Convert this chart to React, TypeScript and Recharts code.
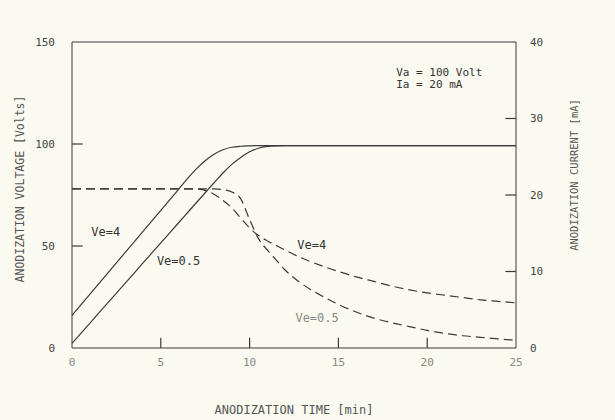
import React from "react";
import {
  LineChart,
  Line,
  XAxis,
  YAxis,
  ReferenceLine,
  ReferenceDot,
} from "recharts";

// anodization time [min]
const time = [0, 1, 2, 3, 4, 5, 6, 6.5, 7, 7.5, 8, 8.5, 9, 9.5, 10, 10.5, 11, 11.5, 12, 13, 14, 15, 16, 17, 18, 19, 20, 21, 22, 23, 24, 25];

// anodization voltage [V]
const voltageVe4 = [16, 26.3, 36.6, 46.9, 57.2, 67.5, 77.8, 83, 87.8, 91.8, 95, 97.2, 98.4, 98.9, 99.1, 99.2, 99.2, 99.2, 99.2, 99.2, 99.2, 99.2, 99.2, 99.2, 99.2, 99.2, 99.2, 99.2, 99.2, 99.2, 99.2, 99.2];
const voltageVe05 = [2.3, 12.1, 22, 31.8, 41.7, 51.5, 61.4, 66.3, 71.2, 76.1, 81, 85.8, 90, 93.4, 96.2, 97.9, 98.8, 99.1, 99.2, 99.2, 99.2, 99.2, 99.2, 99.2, 99.2, 99.2, 99.2, 99.2, 99.2, 99.2, 99.2, 99.2];

// anodization current [mA]
const currentVe4 = [20.8, 20.8, 20.8, 20.8, 20.8, 20.8, 20.8, 20.8, 20.8, 20.6, 20.1, 19.3, 18.3, 17.0, 15.7, 14.7, 14.0, 13.4, 12.8, 11.7, 10.8, 10.0, 9.3, 8.7, 8.1, 7.6, 7.2, 6.9, 6.6, 6.3, 6.1, 5.9];
const currentVe05 = [20.8, 20.8, 20.8, 20.8, 20.8, 20.8, 20.8, 20.8, 20.8, 20.8, 20.8, 20.7, 20.4, 19.5, 16.8, 14.3, 12.8, 11.5, 10.2, 8.3, 6.9, 5.7, 4.7, 3.9, 3.3, 2.8, 2.3, 1.9, 1.6, 1.4, 1.2, 1.0];

const timeTicks = [0, 5, 10, 15, 20, 25];
const voltageTicks = [0, 50, 100, 150];
const currentTicks = [0, 10, 20, 30, 40];

// curve labels: [time, value, text, axis]
const curveLabels: [number, number, string, string][] = [
  [1.9, 57, "Ve=4", "v"],
  [6.0, 43, "Ve=0.5", "v"],
  [13.5, 13.5, "Ve=4", "i"],
  [13.8, 3.9, "Ve=0.5", "i"],
];

const noteLines = ["Va = 100 Volt", "Ia = 20 mA"];

const data = time.map((t, i) => ({
  t,
  v4: voltageVe4[i],
  v05: voltageVe05[i],
  i4: currentVe4[i],
  i05: currentVe05[i],
}));

const FONT = "'DejaVu Sans Mono', 'Liberation Mono', monospace";
const INK = "#3a3a3a";
const BG = "#fbfaf1";
// inward tick marks, in data units (about 10px)
const TICK_T = 0.6;
const TICK_V = 5;
const TICK_I = 0.6;

export default function App() {
  return (
    <div style={{ position: "absolute", left: 0, top: 0, width: 615, height: 420, background: BG }}>
      <LineChart width={615} height={420} data={data} margin={{ top: 42, right: 39, left: 12, bottom: 42 }}>
        <XAxis
          dataKey="t"
          type="number"
          domain={[0, 25]}
          ticks={timeTicks}
          interval={0}
          stroke={INK}
          tickLine={false}
          tickSize={0}
          tickMargin={10}
          height={30}
          tick={{ fill: "#888", fontFamily: FONT, fontSize: 11 }}
          label={{ value: "ANODIZATION TIME [min]", position: "bottom", offset: 27, fill: "#555", fontFamily: FONT, fontSize: 12 }}
        />
        <YAxis
          yAxisId="v"
          orientation="left"
          domain={[0, 150]}
          ticks={voltageTicks}
          interval={0}
          width={60}
          stroke={INK}
          tickLine={false}
          tickSize={0}
          tickMargin={17}
          tick={{ fill: "#444", fontFamily: FONT, fontSize: 11 }}
          label={{ value: "ANODIZATION VOLTAGE [Volts]", angle: -90, position: "insideLeft", offset: 8, dy: -6, fill: "#555", fontFamily: FONT, fontSize: 11.5, style: { textAnchor: "middle" } }}
        />
        <YAxis
          yAxisId="i"
          orientation="right"
          domain={[0, 40]}
          ticks={currentTicks}
          interval={0}
          width={60}
          stroke={INK}
          tickLine={false}
          tickSize={0}
          tickMargin={14}
          tick={{ fill: "#444", fontFamily: FONT, fontSize: 11 }}
          label={{ value: "ANODIZATION CURRENT [mA]", angle: -90, position: "insideRight", offset: 2, dy: -20, fill: "#555", fontFamily: FONT, fontSize: 10.5, style: { textAnchor: "middle" } }}
        />
        <ReferenceLine yAxisId="v" y={150} stroke={INK} />

        {voltageTicks.slice(1, -1).map((v) => (
          <ReferenceLine key={"lt" + v} yAxisId="v" stroke={INK} strokeWidth={1.2} segment={[{ x: 0, y: v }, { x: TICK_T, y: v }]} />
        ))}
        {currentTicks.slice(1, -1).map((c) => (
          <ReferenceLine key={"rt" + c} yAxisId="i" stroke={INK} strokeWidth={1.2} segment={[{ x: 25 - TICK_I, y: c }, { x: 25, y: c }]} />
        ))}
        {timeTicks.slice(1, -1).map((t) => (
          <ReferenceLine key={"bt" + t} yAxisId="v" stroke={INK} strokeWidth={1.2} segment={[{ x: t, y: 0 }, { x: t, y: TICK_V }]} />
        ))}

        <Line yAxisId="v" type="monotone" dataKey="v4" stroke={INK} strokeWidth={1.2} dot={false} isAnimationActive={false} />
        <Line yAxisId="v" type="monotone" dataKey="v05" stroke={INK} strokeWidth={1.2} dot={false} isAnimationActive={false} />
        <Line yAxisId="i" type="monotone" dataKey="i4" stroke={INK} strokeWidth={1.2} strokeDasharray="9 5" dot={false} isAnimationActive={false} />
        <Line yAxisId="i" type="monotone" dataKey="i05" stroke={INK} strokeWidth={1.2} strokeDasharray="9 5" dot={false} isAnimationActive={false} />

        {curveLabels.map(([t, y, text, axis], k) => (
          <ReferenceDot
            key={k}
            x={t}
            y={y}
            yAxisId={axis}
            r={1}
            fill="none"
            stroke="none"
            label={{ value: text, position: "center", fill: k === 3 ? "#888" : "#333", fontFamily: FONT, fontSize: 12 }}
          />
        ))}
        {noteLines.map((s, k) => (
          <ReferenceDot
            key={"n" + k}
            x={18.2}
            y={36.1 - k * 1.55}
            yAxisId="i"
            r={1}
            fill="none"
            stroke="none"
            label={{ value: s, position: "right", offset: 0, fill: "#333", fontFamily: FONT, fontSize: 11 }}
          />
        ))}
      </LineChart>
    </div>
  );
}
